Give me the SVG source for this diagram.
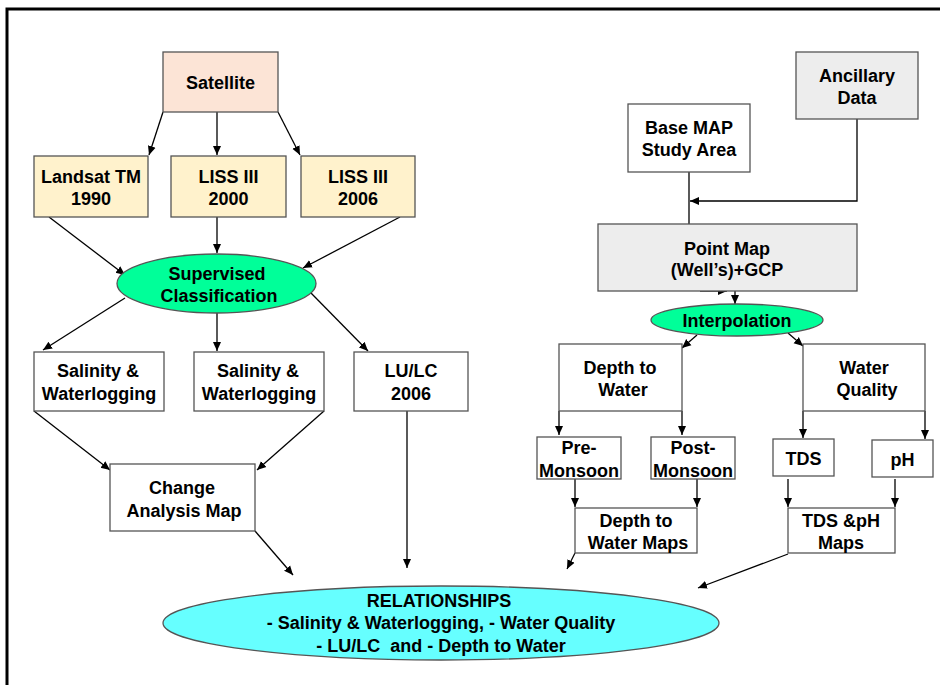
<svg xmlns="http://www.w3.org/2000/svg" width="940" height="685" viewBox="0 0 940 685">
<defs>
<marker id="ah" markerWidth="10" markerHeight="10" refX="9" refY="5" orient="auto" markerUnits="userSpaceOnUse">
<path d="M0,1 L9,5 L0,9 Z" fill="#000"/>
</marker>
<style>
text{font-family:"Liberation Sans",Arial,sans-serif;font-weight:bold;font-size:18px;fill:#000;text-anchor:middle}
.b{stroke:#555;stroke-width:1.3}
.w{fill:#fff}
.p{fill:#FCE4D6}
.y{fill:#FFF2CC}
.g{fill:#EDEDED}
.c line,.c path{stroke:#000;stroke-width:1.3;fill:none}
.a{marker-end:url(#ah)}
</style>
</defs>
<rect width="940" height="685" fill="#fff"/>
<path d="M7,685 V9 H940" fill="none" stroke="#000" stroke-width="3"/>
<g class="c" id="connectors">
<line class="a" x1="163" y1="112" x2="149" y2="155"/>
<line class="a" x1="217" y1="112" x2="217" y2="155"/>
<line class="a" x1="278" y1="112" x2="300" y2="155"/>
<line class="a" x1="49" y1="217" x2="125" y2="275"/>
<line class="a" x1="217" y1="217" x2="217" y2="253"/>
<line class="a" x1="400" y1="217" x2="303" y2="268"/>
<line class="a" x1="125" y1="298" x2="43" y2="350"/>
<line class="a" x1="217" y1="313" x2="217" y2="351"/>
<line class="a" x1="310" y1="292" x2="368" y2="351"/>
<line class="a" x1="34" y1="411" x2="110" y2="470"/>
<line class="a" x1="324" y1="411" x2="257" y2="470"/>
<line class="a" x1="255" y1="531" x2="293" y2="575"/>
<line class="a" x1="407" y1="411" x2="407" y2="568"/>
<line x1="689" y1="172" x2="689" y2="224"/>
<path class="a" d="M857,119 V201 H690"/>
<line class="a" x1="700" y1="291" x2="727" y2="291"/>
<line class="a" x1="735" y1="291" x2="735" y2="304"/>
<line class="a" x1="697" y1="335" x2="682" y2="348"/>
<line class="a" x1="788" y1="333" x2="803" y2="346"/>
<line class="a" x1="559" y1="411" x2="559" y2="435"/>
<line class="a" x1="682" y1="411" x2="682" y2="435"/>
<line class="a" x1="803" y1="411" x2="803" y2="438"/>
<line class="a" x1="925" y1="411" x2="925" y2="439"/>
<line class="a" x1="575" y1="479" x2="575" y2="507"/>
<line class="a" x1="697" y1="479" x2="697" y2="507"/>
<line class="a" x1="788" y1="479" x2="788" y2="507"/>
<line class="a" x1="895" y1="479" x2="895" y2="507"/>
<line class="a" x1="575" y1="553" x2="567" y2="569"/>
<line class="a" x1="788" y1="554" x2="698" y2="588"/>
</g>
<g id="satellite"><rect class="b p" x="163" y="52" width="115" height="60"/><text x="220.5" y="89">Satellite</text></g>
<g id="landsat"><rect class="b y" x="34" y="156" width="114" height="61"/><text x="91" y="183">Landsat TM</text><text x="91" y="205">1990</text></g>
<g id="liss2000"><rect class="b y" x="171" y="156" width="115" height="61"/><text x="228.5" y="183">LISS III</text><text x="228.5" y="205">2000</text></g>
<g id="liss2006"><rect class="b y" x="301" y="156" width="114" height="61"/><text x="358" y="183">LISS III</text><text x="358" y="205">2006</text></g>
<g id="supervised"><ellipse cx="216.5" cy="283.5" rx="99.5" ry="29.5" fill="#00FF99" stroke="#555" stroke-width="1.3"/><text x="217" y="280">Supervised</text><text x="219" y="302">Classification</text></g>
<g id="salinity1"><rect class="b w" x="34" y="352" width="130" height="59"/><text x="98" y="377">Salinity &amp;</text><text x="99" y="400">Waterlogging</text></g>
<g id="salinity2"><rect class="b w" x="194" y="352" width="130" height="59"/><text x="258" y="377">Salinity &amp;</text><text x="259" y="400">Waterlogging</text></g>
<g id="lulc"><rect class="b w" x="354" y="352" width="114" height="59"/><text x="411" y="377">LU/LC</text><text x="411" y="400">2006</text></g>
<g id="change"><rect class="b w" x="110" y="464" width="145" height="67"/><text x="182" y="494">Change</text><text x="184" y="517">Analysis Map</text></g>
<g id="ancillary"><rect class="b g" x="796" y="52" width="122" height="67"/><text x="857" y="82">Ancillary</text><text x="857" y="104">Data</text></g>
<g id="basemap"><rect class="b w" x="628" y="104" width="122" height="68"/><text x="689" y="134">Base MAP</text><text x="689" y="156">Study Area</text></g>
<g id="pointmap"><rect class="b g" x="598" y="224" width="259" height="67"/><text x="727" y="255">Point Map</text><text x="727" y="276">(Well’s)+GCP</text></g>
<g id="interpolation"><ellipse cx="737" cy="320" rx="86" ry="16" fill="#00FF99" stroke="#555" stroke-width="1.3"/><text x="737" y="327">Interpolation</text></g>
<g id="depth"><rect class="b w" x="559" y="344" width="123" height="67"/><text x="620" y="374">Depth to</text><text x="623" y="396">Water</text></g>
<g id="quality"><rect class="b w" x="803" y="344" width="122" height="67"/><text x="864" y="374">Water</text><text x="867" y="396">Quality</text></g>
<g id="pre"><rect class="b w" x="537" y="437" width="84" height="42"/><text x="579" y="454">Pre-</text><text x="579" y="477">Monsoon</text></g>
<g id="post"><rect class="b w" x="651" y="437" width="84" height="42"/><text x="693" y="454">Post-</text><text x="693" y="477">Monsoon</text></g>
<g id="tds"><rect class="b w" x="773" y="439" width="61" height="37"/><text x="803.5" y="465">TDS</text></g>
<g id="ph"><rect class="b w" x="872" y="440" width="61" height="37"/><text x="902.5" y="466">pH</text></g>
<g id="depthmaps"><rect class="b w" x="575" y="508" width="122" height="45"/><text x="636" y="527">Depth to</text><text x="638" y="549">Water Maps</text></g>
<g id="tdsmaps"><rect class="b w" x="788" y="508" width="107" height="45"/><text x="841" y="527">TDS &amp;pH</text><text x="841" y="549">Maps</text></g>
<g id="relationships"><ellipse cx="441" cy="623" rx="278" ry="37" fill="#66FFFF" stroke="#555" stroke-width="1.3"/><text x="439" y="607">RELATIONSHIPS</text><text x="441" y="629">- Salinity &amp; Waterlogging, - Water Quality</text><text x="441" y="652" xml:space="preserve">- LU/LC  and - Depth to Water</text></g>
</svg>
